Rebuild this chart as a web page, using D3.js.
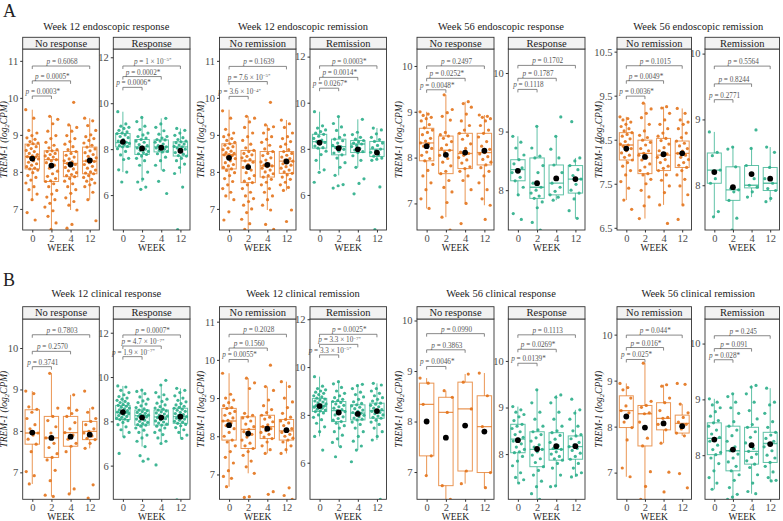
<!DOCTYPE html>
<html><head><meta charset="utf-8">
<script src="https://cdn.jsdelivr.net/npm/d3@7/dist/d3.min.js"></script>
<style>body{margin:0;background:#fff}svg{display:block}svg text{font-family:"Liberation Serif","DejaVu Serif",serif}</style>
</head><body><svg id="c" width="783" height="521" font-family="Liberation Serif, DejaVu Serif, serif"></svg>
<script>
// ---------- DATA ----------
const weeks = ["0","2","4","12"];
const panelLetters = ["A","B"];
const groupTitles = ["Week 12 endoscopic response","Week 12 endoscopic remission","Week 56 endoscopic response","Week 56 endoscopic remission",
                     "Week 12 clinical response","Week 12 clinical remission","Week 56 clinical response","Week 56 clinical remission"];
const stripLabels = [["No response","Response"],["No remission","Remission"],["No response","Response"],["No remission","Remission"],
                     ["No response","Response"],["No remission","Remission"],["No response","Response"],["No remission","Remission"]];
const xTitle = "WEEK";
// box stats per week: [lowWhisker, q1, median, q3, highWhisker, mean]
// ---- A1 ----
const A1L_dom=[6.43,11.32], A1L_ticks=[7,8,9,10,11];
const A1L_box=[[7.25,8.08,8.41,8.75,9.68,8.36],[6.45,7.74,8.33,8.57,9.5,8.17],[6.97,7.87,8.23,8.55,9.27,8.2],[7.25,7.95,8.29,8.67,9.45,8.31]];
const A1L_pts=[[9.68,9.45,9.12,9.05,8.98,8.92,8.88,8.82,8.78,8.76,8.72,8.68,8.63,8.58,8.55,8.5,8.47,8.43,8.41,8.4,8.38,8.35,8.3,8.26,8.22,8.18,8.14,8.1,8.08,8.05,7.98,7.9,7.85,7.78,7.7,7.6,7.52,7.4,7.25,6.9,6.7],
[9.5,9.42,9.3,9.1,8.98,8.9,8.8,8.72,8.65,8.6,8.57,8.55,8.5,8.47,8.43,8.4,8.36,8.33,8.3,8.25,8.18,8.1,8.02,7.95,7.88,7.82,7.76,7.74,7.68,7.6,7.5,7.4,7.32,7.25,7.15,7.05,6.95,6.8,6.62,6.45],
[9.88,9.27,9.2,9.1,8.98,8.9,8.82,8.75,8.68,8.6,8.55,8.5,8.45,8.4,8.35,8.3,8.27,8.23,8.2,8.16,8.12,8.08,8.03,7.98,7.93,7.9,7.87,7.82,7.75,7.68,7.6,7.52,7.42,7.3,7.2,7.1,6.97,6.58,6.48],
[9.45,9.38,9.25,9.12,9.0,8.95,8.9,8.85,8.78,8.72,8.67,8.62,8.57,8.52,8.47,8.42,8.38,8.33,8.3,8.28,8.25,8.2,8.15,8.1,8.05,8.0,7.97,7.95,7.9,7.85,7.8,7.75,7.7,7.65,7.6,7.45,7.25,6.68]];
const A1L_p=["0.0003*","0.0005*","0.6068"], A1L_br=[10.05,10.46,10.86];
const A1R_dom=[4.48,12.36], A1R_ticks=[6,8,10,12];
const A1R_box=[[7.0,8.1,8.28,8.68,9.63,8.32],[6.57,7.77,8.1,8.42,9.38,8.03],[7.08,7.88,8.1,8.4,9.34,8.06],[6.94,7.7,8.1,8.32,8.9,7.93]];
const A1R_pts=[[9.63,9.1,9.0,8.95,8.9,8.82,8.75,8.7,8.68,8.62,8.55,8.5,8.42,8.35,8.3,8.28,8.25,8.2,8.15,8.12,8.1,8.02,7.9,7.75,7.6,7.55,7.1,7.0,6.57],
[9.38,9.2,9.0,8.85,8.7,8.62,8.55,8.48,8.42,8.35,8.3,8.2,8.15,8.1,8.05,8.0,7.95,7.9,7.85,7.8,7.77,7.7,7.6,7.5,7.3,7.0,6.7,6.57,6.35,6.25],
[9.34,9.1,8.95,8.8,8.65,8.55,8.48,8.42,8.4,8.35,8.3,8.22,8.15,8.1,8.08,8.05,8.0,7.95,7.9,7.88,7.8,7.65,7.5,7.3,7.08,6.6,6.07],
[8.9,8.82,8.7,8.6,8.5,8.42,8.35,8.32,8.28,8.22,8.18,8.12,8.1,8.05,8.0,7.92,7.85,7.78,7.72,7.7,7.6,7.5,7.35,7.2,6.94,6.35,4.5]];
const A1R_p=["0.0006*","0.0002*","1 × 10^−5*"], A1R_br=[10.69,11.16,11.62];
// ---- A2 ----
const A2L_dom=[6.43,11.32], A2L_ticks=[7,8,9,10,11];
const A2L_box=[[7.25,8.08,8.46,8.76,9.68,8.38],[6.45,7.71,8.3,8.58,9.5,8.13],[6.97,7.86,8.16,8.55,9.27,8.19],[7.5,7.96,8.29,8.55,9.4,8.28]];
const A2L_pts=[[9.65,9.45,9.15,9.05,9.0,8.95,8.9,8.85,8.8,8.76,8.72,8.68,8.64,8.6,8.56,8.52,8.5,8.47,8.46,8.44,8.4,8.36,8.3,8.25,8.2,8.16,8.12,8.08,8.04,7.98,7.9,7.82,7.74,7.65,7.55,7.45,7.35,7.25,6.92,6.7],
[9.5,9.45,9.35,9.2,9.05,8.95,8.85,8.75,8.65,8.58,8.55,8.5,8.46,8.42,8.38,8.33,8.3,8.26,8.2,8.12,8.05,7.98,7.9,7.82,7.75,7.71,7.65,7.55,7.45,7.35,7.28,7.2,7.1,7.0,6.9,6.72,6.6,6.45],
[9.88,9.27,9.22,9.15,9.05,8.95,8.88,8.8,8.72,8.62,8.55,8.5,8.44,8.38,8.32,8.27,8.22,8.18,8.16,8.14,8.1,8.05,8.0,7.95,7.9,7.86,7.8,7.72,7.65,7.55,7.45,7.35,7.25,7.1,6.97,6.58,6.45],
[9.4,9.3,9.2,9.05,8.95,8.9,8.82,8.75,8.68,8.6,8.55,8.5,8.45,8.4,8.36,8.32,8.29,8.26,8.22,8.18,8.14,8.1,8.05,8.0,7.96,7.92,7.86,7.8,7.72,7.65,7.58,7.5,6.97,6.66]];
const A2L_p=["3.6 × 10^−4*","7.6 × 10^−5*","0.1639"], A2L_br=[10.04,10.44,10.85];
const A2R_dom=[4.48,12.33], A2R_ticks=[6,8,10,12];
const A2R_box=[[7.09,8.03,8.31,8.63,9.61,8.27],[6.85,7.74,8.1,8.42,9.4,8.03],[7.2,7.84,8.21,8.36,9.28,7.98],[7.5,7.67,7.99,8.32,8.9,7.84]];
const A2R_pts=[[9.61,9.0,8.9,8.82,8.75,8.68,8.63,8.55,8.45,8.38,8.31,8.28,8.2,8.12,8.05,8.03,7.9,7.75,7.5,7.09,6.98,6.55],
[9.4,9.1,8.95,8.8,8.6,8.5,8.42,8.35,8.25,8.15,8.1,8.05,7.98,7.9,7.82,7.74,7.6,7.4,7.2,6.85,6.45,6.4,6.3],
[9.28,8.72,8.62,8.5,8.42,8.36,8.3,8.25,8.21,8.15,8.1,8.02,7.95,7.88,7.84,7.7,7.5,7.2,6.7,6.5,6.05],
[8.9,8.82,8.65,8.5,8.4,8.32,8.25,8.15,8.05,7.99,7.92,7.85,7.75,7.68,7.6,7.55,7.5,6.35,4.5]];
const A2R_p=["0.0267*","0.0014*","0.0003*"], A2R_br=[10.63,11.1,11.6];
// ---- A3 ----
const A3L_dom=[6.42,10.37], A3L_ticks=[7,8,9,10];
const A3L_box=[[6.89,7.93,8.32,8.64,9.0,8.25],[6.7,7.65,8.16,8.47,9.37,8.06],[7.0,7.76,8.09,8.53,9.22,8.11],[6.96,7.84,8.11,8.53,8.93,8.15]];
const A3L_pts=[[9.0,8.95,8.92,8.88,8.85,8.8,8.72,8.65,8.6,8.55,8.5,8.42,8.36,8.32,8.3,8.25,8.2,8.12,8.05,7.98,7.93,7.85,7.72,7.6,7.45,7.3,7.1,6.89],
[9.37,9.05,8.98,8.9,8.82,8.55,8.5,8.47,8.42,8.35,8.28,8.2,8.16,8.12,8.05,7.98,7.9,7.82,7.7,7.65,7.5,7.35,7.25,7.02,6.7,6.42],
[9.22,9.18,9.1,8.95,8.8,8.7,8.6,8.53,8.48,8.4,8.3,8.2,8.12,8.09,8.05,8.0,7.95,7.88,7.8,7.76,7.7,7.6,7.5,7.3,7.0,6.56],
[8.93,8.9,8.88,8.85,8.8,8.7,8.6,8.53,8.45,8.35,8.25,8.18,8.11,8.08,8.02,7.96,7.9,7.84,7.78,7.7,7.6,7.45,7.3,7.1,6.96,6.65]];
const A3L_p=["0.0048*","0.0252*","0.2497"], A3L_br=[9.48,9.73,10.0];
const A3R_dom=[7.32,10.41], A3R_ticks=[8,9,10];
const A3R_box=[[7.9,8.16,8.35,8.52,8.92,8.33],[7.32,7.86,8.05,8.55,9.09,8.12],[7.83,7.92,8.12,8.43,8.92,8.2],[7.52,7.95,8.19,8.42,8.55,8.19]];
const A3R_pts=[[8.92,8.82,8.72,8.6,8.52,8.45,8.38,8.35,8.3,8.22,8.16,8.05,7.92,7.6,7.5],
[9.09,8.72,8.58,8.55,8.42,8.3,8.12,8.05,8.0,7.95,7.9,7.86,7.8,7.7,7.45,7.32],
[9.25,8.92,8.7,8.55,8.43,8.3,8.2,8.12,8.05,7.98,7.92,7.88,7.83],
[9.17,8.55,8.5,8.42,8.35,8.25,8.19,8.1,8.0,7.95,7.85,7.65,7.52]];
const A3R_p=["0.1118","0.1787","0.1702"], A3R_br=[9.72,9.91,10.13];
// ---- A4 ----
const A4L_dom=[6.45,10.56], A4L_ticks=[6.5,7.5,8.5,9.5,10.5];
const A4L_box=[[7.13,8.04,8.38,8.66,9.02,8.3],[6.71,7.73,8.19,8.49,9.33,8.11],[7.02,7.8,8.15,8.53,9.25,8.17],[7.02,7.87,8.19,8.47,9.21,8.19]];
const A4L_pts=[[9.02,8.98,8.95,8.9,8.85,8.8,8.75,8.7,8.66,8.62,8.58,8.52,8.46,8.4,8.38,8.35,8.3,8.25,8.2,8.15,8.1,8.04,7.98,7.9,7.8,7.7,7.55,7.4,7.13,6.92],
[9.33,9.2,9.1,9.0,8.85,8.7,8.6,8.55,8.49,8.44,8.38,8.3,8.25,8.19,8.15,8.1,8.04,7.95,7.88,7.8,7.73,7.7,7.6,7.5,7.35,7.2,7.0,6.71],
[9.25,9.22,9.1,8.95,8.85,8.75,8.65,8.58,8.53,8.48,8.4,8.32,8.25,8.18,8.15,8.1,8.05,7.98,7.9,7.85,7.8,7.7,7.58,7.45,7.3,7.02,6.6],
[9.21,9.1,8.95,8.9,8.85,8.75,8.65,8.55,8.47,8.42,8.36,8.3,8.24,8.19,8.15,8.1,8.05,7.98,7.92,7.87,7.8,7.7,7.6,7.45,7.25,7.02,6.69]];
const A4L_p=["0.0036*","0.0049*","0.1015"], A4L_br=[9.49,9.84,10.18];
const A4R_dom=[7.32,10.07], A4R_ticks=[8,9,10];
const A4R_box=[[7.52,8.03,8.23,8.49,8.81,8.2],[7.32,7.77,7.93,8.28,8.58,7.97],[7.82,7.96,8.0,8.3,8.56,8.17],[7.75,7.92,8.03,8.27,8.58,8.1]];
const A4R_pts=[[8.81,8.5,8.45,8.23,8.1,8.03,7.6,7.52],[8.58,8.55,8.28,7.95,7.93,7.9,7.77,7.5,7.32],[8.84,8.56,8.3,8.1,8.0,7.97,7.9,7.82],[8.58,8.5,8.27,8.1,8.03,7.95,7.92,7.8,7.75]];
const A4R_p=["0.2771","0.8244","0.5564"], A4R_br=[9.3,9.54,9.81];
// ---- B1 ----
const B1L_dom=[6.35,10.7], B1L_ticks=[7,8,9,10];
const B1L_box=[[6.72,7.68,7.95,8.51,8.96,7.96],[6.42,7.36,7.83,8.35,9.39,7.83],[6.48,7.63,7.96,8.35,8.87,7.86],[7.58,7.79,7.99,8.23,8.55,7.91]];
const B1L_pts=[[8.96,8.9,8.58,8.52,8.45,8.3,8.15,8.05,7.95,7.9,7.8,7.68,7.5,7.02,6.92,6.72],
[9.39,8.55,8.35,8.25,8.1,7.95,7.83,7.7,7.6,7.45,7.36,7.3,7.05,6.8,6.45,6.42],
[8.87,8.55,8.5,8.42,8.35,8.2,8.05,7.96,7.9,7.8,7.7,7.63,7.5,6.6,6.48],
[8.96,8.55,8.45,8.3,8.23,8.15,8.05,7.99,7.95,7.88,7.82,7.79,7.7,7.58,6.7,6.38]];
const B1L_p=["0.3741","0.2570","0.7803"], B1L_br=[9.55,9.92,10.32];
const B1R_dom=[4.48,12.62], B1R_ticks=[6,8,10,12];
const B1R_box=[[7.3,8.08,8.4,8.72,9.6,8.42],[6.86,7.83,8.26,8.51,9.41,8.17],[7.0,7.83,8.2,8.51,9.64,8.17],[7.23,7.91,8.21,8.59,9.49,8.21]];
const B1R_pts=[[9.6,9.55,9.4,9.3,9.2,9.12,9.05,9.0,8.95,8.9,8.85,8.8,8.76,8.72,8.68,8.64,8.6,8.56,8.52,8.48,8.45,8.42,8.4,8.37,8.34,8.3,8.26,8.22,8.18,8.14,8.1,8.08,8.03,7.95,7.85,7.75,7.62,7.5,7.3,6.55],
[9.41,9.35,9.25,9.1,9.0,8.92,8.85,8.78,8.7,8.62,8.56,8.51,8.48,8.44,8.4,8.36,8.32,8.28,8.26,8.23,8.2,8.15,8.1,8.05,8.0,7.95,7.9,7.85,7.83,7.78,7.7,7.6,7.5,7.38,7.25,7.1,6.86,6.45,6.3,6.2],
[9.85,9.64,9.3,9.2,9.1,9.0,8.9,8.82,8.74,8.66,8.6,8.55,8.51,8.47,8.43,8.38,8.33,8.28,8.24,8.2,8.17,8.12,8.07,8.02,7.97,7.92,7.87,7.83,7.78,7.7,7.6,7.5,7.4,7.25,7.1,7.0,6.03],
[9.49,9.4,9.3,9.15,9.05,8.95,8.88,8.8,8.74,8.68,8.63,8.59,8.55,8.5,8.45,8.4,8.35,8.3,8.26,8.21,8.18,8.14,8.1,8.05,8.0,7.96,7.91,7.86,7.8,7.72,7.62,7.5,7.38,7.23,4.45]];
const B1R_p=["1.9 × 10^−7*","4.7 × 10^−7*","0.0007*"], B1R_br=[10.92,11.4,11.9];
// ---- B2 ----
const B2L_dom=[6.35,11.07], B2L_ticks=[7,8,9,10,11];
const B2L_box=[[6.68,7.9,8.4,8.73,9.65,8.29],[7.03,7.68,8.18,8.51,9.52,8.07],[7.55,7.94,8.25,8.55,9.3,8.2],[7.55,7.9,8.14,8.44,9.43,8.16]];
const B2L_pts=[[9.65,9.1,9.0,8.95,8.88,8.8,8.75,8.73,8.65,8.6,8.55,8.48,8.42,8.4,8.35,8.28,8.2,8.1,8.0,7.9,7.85,7.75,7.6,7.45,7.3,7.1,6.95,6.9,6.68],
[9.52,9.4,9.25,8.6,8.55,8.51,8.48,8.4,8.32,8.25,8.18,8.12,8.05,7.98,7.9,7.82,7.75,7.68,7.6,7.5,7.35,7.2,7.03,6.42,6.4],
[9.86,9.3,9.2,8.95,8.8,8.7,8.62,8.55,8.5,8.45,8.38,8.3,8.25,8.2,8.15,8.1,8.05,7.98,7.94,7.85,7.75,7.65,7.55,6.55,6.48],
[9.43,9.3,9.0,8.9,8.75,8.6,8.5,8.44,8.4,8.35,8.28,8.2,8.14,8.1,8.05,8.0,7.95,7.9,7.85,7.75,7.65,7.55,6.65,6.45,6.35]];
const B2L_p=["0.0055*","0.1560","0.2028"], B2L_br=[10.01,10.31,10.67];
const B2R_dom=[4.47,12.01], B2R_ticks=[6,8,10,12];
const B2R_box=[[7.1,8.14,8.37,8.69,9.6,8.37],[6.67,7.72,8.18,8.56,9.39,8.1],[6.53,7.79,8.07,8.42,9.28,8.04],[6.95,7.86,8.18,8.49,9.32,8.16]];
const B2R_pts=[[9.6,9.2,9.1,9.05,9.0,8.95,8.9,8.85,8.8,8.75,8.7,8.66,8.62,8.58,8.54,8.5,8.46,8.42,8.39,8.37,8.35,8.32,8.28,8.24,8.2,8.17,8.14,8.08,8.0,7.9,7.8,7.65,7.5,7.3,7.1,6.53],
[9.39,9.3,9.15,9.0,8.9,8.8,8.72,8.65,8.6,8.56,8.52,8.46,8.4,8.34,8.28,8.22,8.18,8.14,8.08,8.0,7.92,7.85,7.78,7.72,7.65,7.55,7.45,7.3,7.15,7.0,6.85,6.67,6.25],
[9.28,9.22,9.1,8.95,8.85,8.75,8.65,8.55,8.48,8.42,8.38,8.32,8.26,8.2,8.15,8.1,8.07,8.03,7.98,7.92,7.87,7.82,7.79,7.7,7.6,7.45,7.3,7.1,6.9,6.7,6.53,6.04],
[9.32,9.25,9.1,9.0,8.9,8.8,8.72,8.65,8.58,8.49,8.45,8.4,8.34,8.28,8.22,8.18,8.15,8.1,8.05,8.0,7.95,7.9,7.86,7.78,7.7,7.6,7.45,7.3,7.1,6.95,4.47]];
const B2R_p=["3.3 × 10^−5*","3.3 × 10^−7*","0.0025*"], B2R_br=[10.51,10.95,11.37];
// ---- B3 ----
const B3L_dom=[6.46,10.03], B3L_ticks=[7,8,9,10];
const B3L_box=[[6.93,7.32,8.34,8.76,8.86,8.0],[6.46,6.73,8.18,8.48,8.61,7.68],[6.77,7.02,8.25,8.78,8.94,7.92],[6.69,6.99,7.9,8.51,8.96,7.8]];
const B3L_pts=[[8.86,8.76,8.34,7.32,6.93],[8.61,8.48,8.18,6.73,6.46],[8.94,8.78,8.25,7.02,6.77],[8.96,8.51,7.9,6.99,6.69]];
const B3L_p=["0.0046*","0.3863","0.0990"], B3L_br=[9.09,9.42,9.74];
const B3R_dom=[7.03,10.9], B3R_ticks=[8,9,10];
const B3R_box=[[7.38,8.03,8.32,8.64,9.02,8.3],[7.03,7.73,8.1,8.48,9.38,8.11],[7.3,7.87,8.1,8.46,9.27,8.17],[7.51,7.89,8.16,8.39,8.95,8.17]];
const B3R_pts=[[9.02,8.95,8.9,8.85,8.8,8.72,8.64,8.6,8.55,8.48,8.42,8.36,8.32,8.28,8.22,8.15,8.1,8.05,8.03,7.95,7.85,7.75,7.6,7.5,7.45,7.38],
[9.38,9.1,8.9,8.75,8.6,8.52,8.48,8.42,8.35,8.28,8.2,8.15,8.1,8.05,7.98,7.9,7.82,7.73,7.65,7.55,7.42,7.3,7.15,7.03],
[9.27,9.22,9.1,8.9,8.75,8.6,8.5,8.46,8.4,8.32,8.25,8.18,8.12,8.1,8.05,8.0,7.95,7.9,7.87,7.8,7.7,7.55,7.32,7.3],
[9.18,8.95,8.88,8.75,8.6,8.5,8.42,8.39,8.33,8.25,8.2,8.16,8.12,8.08,8.02,7.95,7.89,7.8,7.7,7.6,7.55,7.51]];
const B3R_p=["0.0139*","0.0269*","0.1113"], B3R_br=[9.95,10.25,10.56];
// ---- B4 ----
const B4L_dom=[6.42,10.34], B4L_ticks=[7,8,9,10];
const B4L_box=[[6.91,7.98,8.35,8.67,8.94,8.22],[6.42,7.58,8.28,8.46,9.38,7.98],[7.64,7.93,8.18,8.52,8.91,8.07],[7.8,7.86,8.07,8.25,8.49,8.01]];
const B4L_pts=[[8.94,8.85,8.8,8.62,8.45,8.35,8.3,8.1,7.98,7.71,7.1,6.91],[9.38,8.55,8.46,8.42,8.3,8.28,8.1,7.75,7.58,7.02,6.7,6.42],[8.91,8.88,8.62,8.52,8.35,8.2,8.18,8.05,7.93,7.64,7.01,6.58],[8.94,8.92,8.49,8.3,8.2,8.1,8.05,7.95,7.86,7.8,6.98,6.67]];
const B4L_p=["0.025*","0.016*","0.044*"], B4L_br=[9.46,9.72,9.99];
const B4R_dom=[7.21,10.44], B4R_ticks=[8,9,10];
const B4R_box=[[7.39,8.01,8.3,8.58,9.01,8.28],[7.21,7.72,8.08,8.52,9.1,8.1],[7.31,7.84,8.07,8.5,9.25,8.18],[7.54,7.87,8.21,8.41,9.2,8.2]];
const B4R_pts=[[9.01,8.95,8.9,8.85,8.78,8.7,8.62,8.58,8.52,8.45,8.38,8.32,8.3,8.25,8.18,8.1,8.05,8.01,7.95,7.85,7.72,7.6,7.5,7.39],
[9.1,9.05,8.95,8.85,8.75,8.6,8.52,8.45,8.35,8.25,8.15,8.08,8.02,7.95,7.88,7.8,7.72,7.65,7.55,7.42,7.3,7.25,7.21],
[9.25,9.22,9.1,8.95,8.8,8.65,8.55,8.5,8.42,8.32,8.22,8.12,8.07,8.02,7.96,7.9,7.84,7.78,7.65,7.5,7.35,7.31],
[9.2,8.95,8.9,8.75,8.6,8.5,8.41,8.36,8.3,8.25,8.21,8.15,8.08,8.0,7.95,7.87,7.8,7.7,7.6,7.55,7.54]];
const B4R_p=["0.028*","0.091","0.245"], B4R_br=[9.71,9.91,10.14];

// ---------- TABLE BUILT FROM THE ARRAYS ----------
const facetData = [
 [A1L_dom,A1L_ticks,A1L_box,A1L_pts,A1L_p,A1L_br],[A1R_dom,A1R_ticks,A1R_box,A1R_pts,A1R_p,A1R_br],
 [A2L_dom,A2L_ticks,A2L_box,A2L_pts,A2L_p,A2L_br],[A2R_dom,A2R_ticks,A2R_box,A2R_pts,A2R_p,A2R_br],
 [A3L_dom,A3L_ticks,A3L_box,A3L_pts,A3L_p,A3L_br],[A3R_dom,A3R_ticks,A3R_box,A3R_pts,A3R_p,A3R_br],
 [A4L_dom,A4L_ticks,A4L_box,A4L_pts,A4L_p,A4L_br],[A4R_dom,A4R_ticks,A4R_box,A4R_pts,A4R_p,A4R_br],
 [B1L_dom,B1L_ticks,B1L_box,B1L_pts,B1L_p,B1L_br],[B1R_dom,B1R_ticks,B1R_box,B1R_pts,B1R_p,B1R_br],
 [B2L_dom,B2L_ticks,B2L_box,B2L_pts,B2L_p,B2L_br],[B2R_dom,B2R_ticks,B2R_box,B2R_pts,B2R_p,B2R_br],
 [B3L_dom,B3L_ticks,B3L_box,B3L_pts,B3L_p,B3L_br],[B3R_dom,B3R_ticks,B3R_box,B3R_pts,B3R_p,B3R_br],
 [B4L_dom,B4L_ticks,B4L_box,B4L_pts,B4L_p,B4L_br],[B4R_dom,B4R_ticks,B4R_box,B4R_pts,B4R_p,B4R_br]
].map(a=>({dom:a[0],ticks:a[1],box:a[2],pts:a[3],p:a[4],br:a[5]}));

// ---------- LAYOUT ----------
const FONT="Liberation Serif, DejaVu Serif, serif";
const rows=[{strip:37.3,top:49,bottom:230,title:30.3,letter:17},{strip:306.7,top:319,bottom:499.3,title:296.8,letter:286}];
const cols=[[22.7,99.3,113.3,190],[219.5,296,310,386.5],[417,494,508.3,585],[617,691.5,705,779.5]];
const colors=["#E3731B","#2BAE8A"];
const svg=d3.select("#c");
const defs=svg.append("defs");
const txtCol="#4D4D4D";

panelLetters.forEach((L,r)=>svg.append("text").attr("x",3).attr("y",rows[r].letter).attr("font-size",18).attr("fill","#222").text(L));

for(let r=0;r<2;r++){
 for(let g=0;g<4;g++){
  const gi=r*4+g, R=rows[r], C=cols[g];
  svg.append("text").attr("x",(C[0]+C[3])/2).attr("y",R.title).attr("text-anchor","middle").attr("font-size",10.5).attr("fill","#222").text(groupTitles[gi]);
  const yt=svg.append("text").attr("transform",`translate(${C[0]-15.5},${(R.top+R.bottom)/2}) rotate(-90)`).attr("text-anchor","middle").attr("font-size",9.5).attr("font-style","italic").attr("fill","#222");
  yt.append("tspan").text("TREM-1 (log");
  yt.append("tspan").attr("font-size",6.5).attr("dy",2).text("2");
  yt.append("tspan").attr("dy",-2).text("CPM)");
  for(let s=0;s<2;s++){
   const f=facetData[gi*2+s];
   const x0=C[s*2], x1=C[s*2+1], col=colors[s];
   const x=d3.scalePoint().domain(weeks).range([x0,x1]).padding(0.5);
   const y=d3.scaleLinear().domain(f.dom).range([R.bottom,R.top]);
   const bw=x.step()*0.75, jw=x.step()*0.34;
   const cid=`clip${gi}_${s}`;
   defs.append("clipPath").attr("id",cid).append("rect").attr("x",x0).attr("y",R.top).attr("width",x1-x0).attr("height",R.bottom-R.top);
   const p=svg.append("g").attr("clip-path",`url(#${cid})`);
   weeks.forEach((w,i)=>{
     const b=f.box[i], cx=x(w);
     const bg=p.append("g").attr("stroke",col).attr("stroke-opacity",0.75).attr("fill","none").attr("stroke-width",1);
     bg.append("line").attr("x1",cx).attr("x2",cx).attr("y1",y(b[0])).attr("y2",y(b[1]));
     bg.append("line").attr("x1",cx).attr("x2",cx).attr("y1",y(b[3])).attr("y2",y(b[4]));
     bg.append("rect").attr("x",cx-bw/2).attr("width",bw).attr("y",y(b[3])).attr("height",y(b[1])-y(b[3])).attr("fill","#fff").attr("fill-opacity",0.4);
     bg.append("line").attr("x1",cx-bw/2).attr("x2",cx+bw/2).attr("y1",y(b[2])).attr("y2",y(b[2])).attr("stroke-width",1.3);
     // jittered points (x offset is a layout spread only)
     p.selectAll(null).data(f.pts[i]).enter().append("circle")
      .attr("cx",(d,k)=>cx+(((k*0.6180339+0.37*i+0.11*s)%1)-0.5)*2*jw)
      .attr("cy",d=>y(d)).attr("r",1.6).attr("fill",col).attr("fill-opacity",0.9);
     p.append("circle").attr("cx",cx).attr("cy",y(b[5])).attr("r",2.9).attr("fill","#000");
   });
   const ends=["2","4","12"];
   f.br.forEach((bv,k)=>{
     const xa=x("0"), xb=x(ends[k]), yy=y(bv);
     svg.append("path").attr("d",`M${xa},${yy+3}V${yy}H${xb}V${yy+3}`).attr("fill","none").attr("stroke","#6b6b6b").attr("stroke-width",0.8);
     const t=svg.append("text").attr("x",(xa+xb)/2+1).attr("y",yy-2).attr("text-anchor","middle").attr("font-size",7.2).attr("fill","#555");
     t.append("tspan").attr("font-style","italic").text("p");
     const lab=f.p[k];
     if(lab.includes("^")){
       const [base,exp]=lab.split("^");
       t.append("tspan").text(" = "+base);
       t.append("tspan").attr("font-size",5).attr("dy",-2.5).text(exp);
     } else t.append("tspan").text(" = "+lab);
   });
   svg.append("rect").attr("x",x0).attr("y",R.top).attr("width",x1-x0).attr("height",R.bottom-R.top).attr("fill","none").attr("stroke","#333").attr("stroke-width",0.9);
   svg.append("rect").attr("x",x0).attr("y",R.strip).attr("width",x1-x0).attr("height",R.top-R.strip).attr("fill","#F2F2F2").attr("stroke","#333").attr("stroke-width",0.9);
   svg.append("text").attr("x",(x0+x1)/2).attr("y",(R.strip+R.top)/2+3.6).attr("text-anchor","middle").attr("font-size",10.5).attr("fill","#222").text(stripLabels[gi][s]);
   const ya=svg.append("g").attr("transform",`translate(${x0},0)`).call(d3.axisLeft(y).tickValues(f.ticks).tickSize(2.5).tickPadding(2).tickFormat(d=>String(d)));
   ya.attr("font-family",FONT).attr("font-size",10.5);
   ya.select(".domain").remove();
   ya.selectAll("line").attr("stroke","#333");
   ya.selectAll("text").attr("fill",txtCol);
   const xa=svg.append("g").attr("transform",`translate(0,${R.bottom})`).call(d3.axisBottom(x).tickSize(2.5).tickPadding(2));
   xa.attr("font-family",FONT).attr("font-size",10.5);
   xa.select(".domain").remove();
   xa.selectAll("line").attr("stroke","#333");
   xa.selectAll("text").attr("fill",txtCol);
   svg.append("text").attr("x",(x0+x1)/2).attr("y",R.bottom+20.5).attr("text-anchor","middle").attr("font-size",9.5).attr("fill","#222").text(xTitle);
  }
 }
}
</script></body></html>
